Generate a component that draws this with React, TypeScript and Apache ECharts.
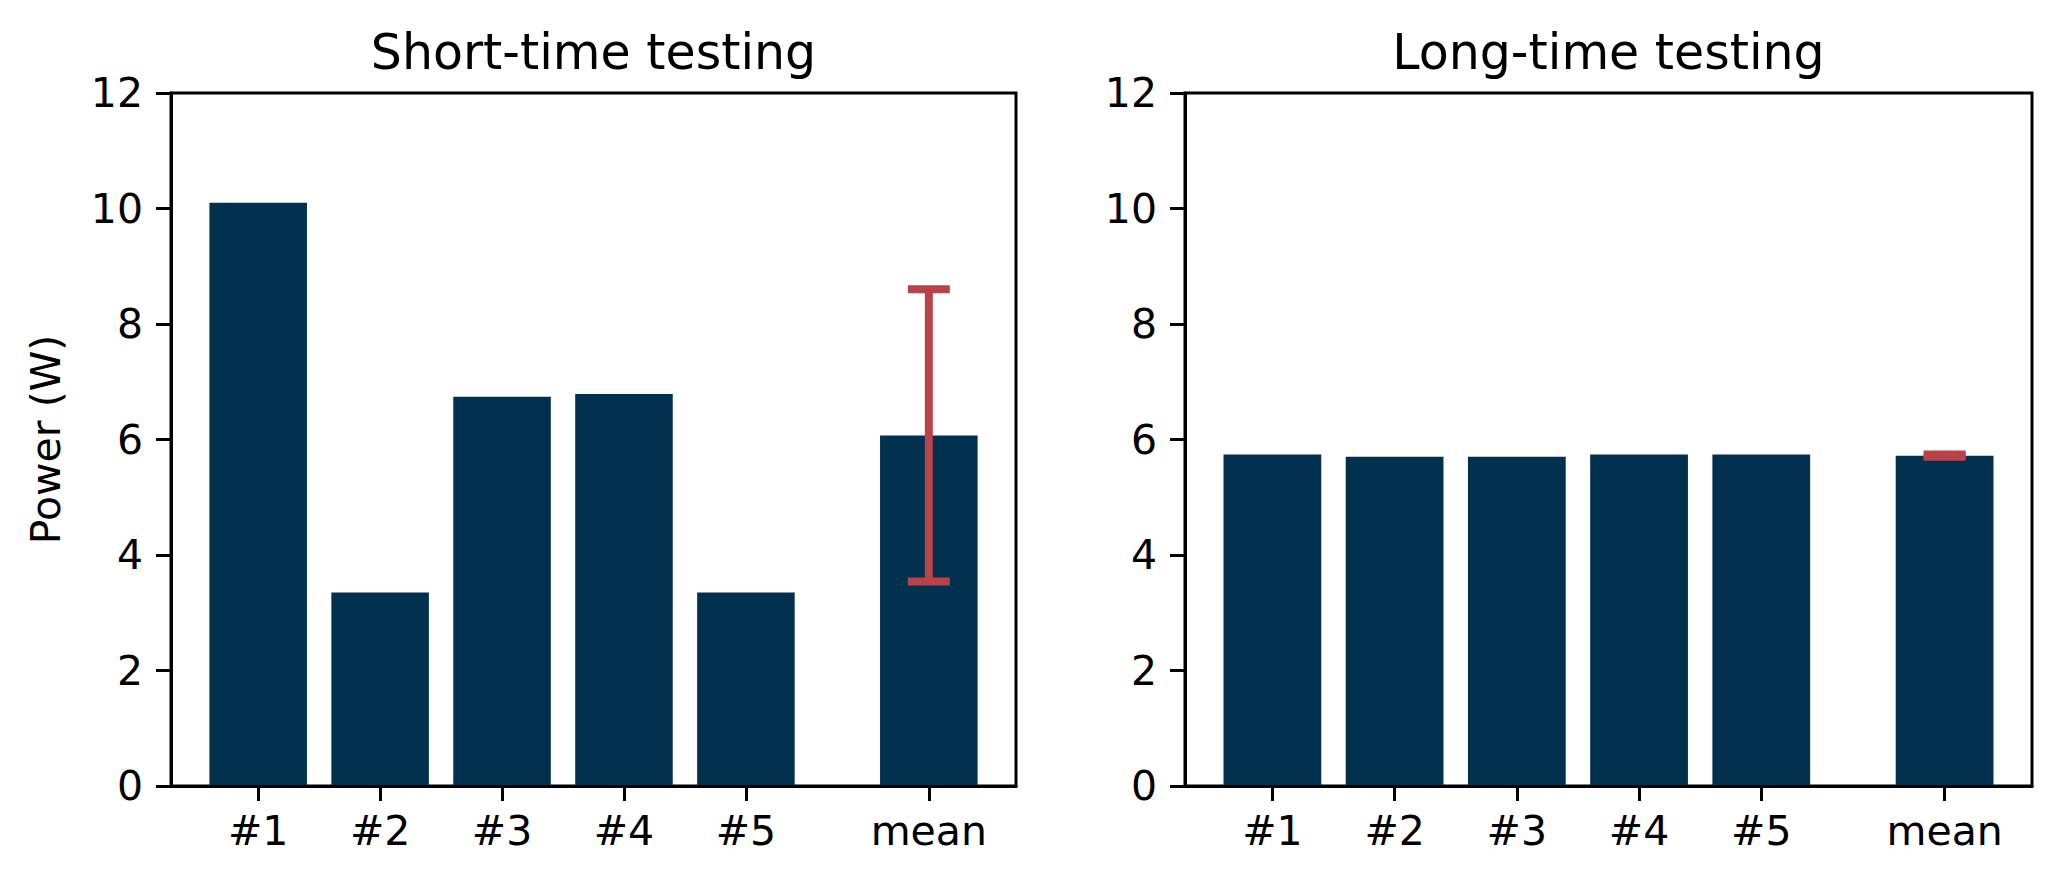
import React, { useEffect, useRef } from "react";
import * as echarts from "echarts";

const categories = ["#1", "#2", "#3", "#4", "#5", "mean"];
const positions = [0, 1, 2, 3, 4, 5.5];
const shortValues = [10.1, 3.35, 6.74, 6.79, 3.35, 6.07];
const shortErr = 2.53;
const longValues = [5.74, 5.7, 5.7, 5.74, 5.74, 5.72];
const longErr = 0.02;
const yTicks = [0, 2, 4, 6, 8, 10, 12];
const titles = ["Short-time testing", "Long-time testing"];
const yLabel = "Power (W)";

const BAR = "#023150";
const ERR = "#b8434b";
const FONT = "DejaVu Sans";

export default function App() {
  const ref = useRef<HTMLDivElement>(null);
  useEffect(() => {
    if (!ref.current) return;
    const chart = echarts.init(ref.current, undefined, { renderer: "svg" });
    const grids = [
      { left: 171, top: 93, width: 845, height: 693 },
      { left: 1185, top: 93, width: 847, height: 693 },
    ];
    const mkX = (gi: number) => ({
      type: "value",
      gridIndex: gi,
      min: -0.715,
      max: 6.215,
      z: 10,
      splitLine: { show: false },
      axisLine: { show: true, onZero: false, lineStyle: { color: "#000", width: 3 } },
      axisTick: {
        show: true,
        customValues: positions,
        length: 15,
        lineStyle: { color: "#000", width: 3 },
      },
      axisLabel: {
        customValues: positions,
        margin: 24,
        color: "#000",
        fontFamily: FONT,
        fontSize: 41,
        formatter: (v: number) => {
          const i = positions.findIndex((p) => Math.abs(p - v) < 1e-6);
          return i >= 0 ? categories[i] : "";
        },
      },
    });
    const mkY = (gi: number) => ({
      type: "value",
      gridIndex: gi,
      min: 0,
      max: 12,
      interval: 2,
      z: 10,
      splitLine: { show: false },
      axisLine: { show: true, onZero: false, lineStyle: { color: "#000", width: 3 } },
      axisTick: { show: true, length: 15, lineStyle: { color: "#000", width: 3 } },
      axisLabel: {
        margin: 28,
        color: "#000",
        fontFamily: FONT,
        fontSize: 41,
        formatter: (v: number) => (yTicks.includes(v) ? String(v) : ""),
      },
    });
    const barSeries = (gi: number, values: number[]) => ({
      type: "custom",
      xAxisIndex: gi,
      yAxisIndex: gi,
      z: 2,
      data: values.map((v, i) => [positions[i], v]),
      renderItem: (params: any, api: any) => {
        const x = api.value(0);
        const y = api.value(1);
        const p1 = api.coord([x - 0.4, y]);
        const p2 = api.coord([x + 0.4, 0]);
        return {
          type: "rect",
          shape: { x: p1[0], y: p1[1], width: p2[0] - p1[0], height: p2[1] - p1[1] },
          style: { fill: BAR },
        };
      },
    });
    const errSeries = (gi: number, x: number, mean: number, err: number) => ({
      type: "custom",
      xAxisIndex: gi,
      yAxisIndex: gi,
      z: 5,
      data: [[x, mean, err]],
      renderItem: (params: any, api: any) => {
        const cx = api.value(0);
        const m = api.value(1);
        const e = api.value(2);
        const top = api.coord([cx, m + e]);
        const bot = api.coord([cx, m - e]);
        const cap = 21;
        const st = { stroke: ERR, lineWidth: 8 };
        return {
          type: "group",
          children: [
            { type: "line", shape: { x1: top[0], y1: top[1], x2: bot[0], y2: bot[1] }, style: st },
            { type: "line", shape: { x1: top[0] - cap, y1: top[1], x2: top[0] + cap, y2: top[1] }, style: st },
            { type: "line", shape: { x1: bot[0] - cap, y1: bot[1], x2: bot[0] + cap, y2: bot[1] }, style: st },
          ],
        };
      },
    });
    chart.setOption({
      animation: false,
      backgroundColor: "#fff",
      grid: grids.map((g) => ({
        ...g,
        show: true,
        borderColor: "#000",
        borderWidth: 3,
        backgroundColor: "transparent",
        containLabel: false,
      })),
      xAxis: [mkX(0), mkX(1)],
      yAxis: [mkY(0), mkY(1)],
      series: [
        barSeries(0, shortValues),
        barSeries(1, longValues),
        errSeries(0, positions[5], shortValues[5], shortErr),
        errSeries(1, positions[5], longValues[5], longErr),
      ],
      graphic: [
        {
          type: "text",
          x: 593.5,
          y: 52,
          style: {
            text: titles[0],
            fontFamily: FONT,
            fontSize: 49,
            fill: "#000",
            textAlign: "center",
            textVerticalAlign: "middle",
          },
        },
        {
          type: "text",
          x: 1608.5,
          y: 52,
          style: {
            text: titles[1],
            fontFamily: FONT,
            fontSize: 49,
            fill: "#000",
            textAlign: "center",
            textVerticalAlign: "middle",
          },
        },
        {
          type: "text",
          x: 46,
          y: 439.5,
          rotation: Math.PI / 2,
          style: {
            text: yLabel,
            fontFamily: FONT,
            fontSize: 41,
            fill: "#000",
            textAlign: "center",
            textVerticalAlign: "middle",
          },
        },
      ],
    });
    return () => chart.dispose();
  }, []);
  return (
    <div
      ref={ref}
      style={{ position: "fixed", left: 0, top: 0, width: 2060, height: 887, background: "#fff" }}
    />
  );
}
